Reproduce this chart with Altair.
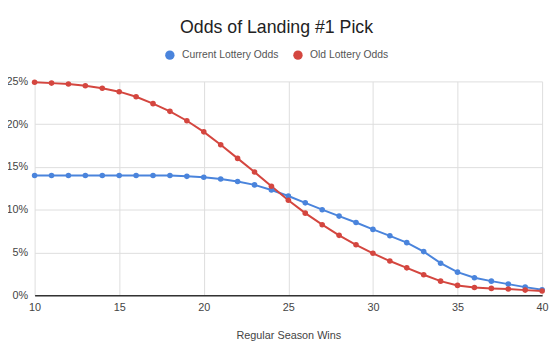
import altair as alt
import pandas as pd

wins = list(range(10, 41))
current_odds = [14.0, 14.0, 14.0, 14.0, 14.0, 14.0, 14.0, 14.0, 14.0, 13.9, 13.8,
                13.6, 13.3, 12.9, 12.3, 11.6, 10.8, 10.0, 9.25, 8.5, 7.7,
                6.95, 6.15, 5.1, 3.75, 2.7, 2.05, 1.65, 1.3, 0.95, 0.65]
old_odds = [24.9, 24.8, 24.7, 24.5, 24.2, 23.8, 23.2, 22.4, 21.5, 20.4, 19.1,
            17.6, 16.0, 14.4, 12.75, 11.1, 9.6, 8.25, 7.0, 5.9, 4.9,
            4.0, 3.2, 2.4, 1.65, 1.15, 0.9, 0.8, 0.73, 0.6, 0.5]
series_names = ["Current Lottery Odds", "Old Lottery Odds"]
colors = ["#4a84dc", "#d4463f"]

rows = []
for name, vals in zip(series_names, [current_odds, old_odds]):
    for w, v in zip(wins, vals):
        rows.append({"wins": w, "odds": v, "series": name})
df = pd.DataFrame(rows)

FONT = "Arial, Liberation Sans, sans-serif"

color = alt.Color(
    "series:N",
    scale=alt.Scale(domain=series_names, range=colors),
    legend=alt.Legend(
        orient="none", legendX=132, legendY=-32, direction="horizontal",
        title=None, symbolType="circle", symbolSize=90, symbolStrokeWidth=0,
        labelFont=FONT, labelFontSize=10.5, labelColor="#555555",
        columnPadding=14, labelOffset=7,
    ),
)

x = alt.X("wins:Q", scale=alt.Scale(domain=[10, 40], nice=False),
          axis=alt.Axis(values=[10, 15, 20, 25, 30, 35, 40], title="Regular Season Wins",
                        ticks=False, labelPadding=6, titlePadding=18, labelFlush=False,
                        domainColor="#333333", domainWidth=1.5,
                        gridColor="#dddddd", labelColor="#444444", titleColor="#444444",
                        labelFont=FONT, titleFont=FONT, labelFontSize=11,
                        titleFontSize=11, titleFontWeight="normal"))
y = alt.Y("odds:Q", scale=alt.Scale(domain=[0, 25], nice=False),
          axis=alt.Axis(values=[0, 5, 10, 15, 20, 25], title=None, ticks=False,
                        labelPadding=7, domain=False, gridColor="#dddddd",
                        labelColor="#444444", labelFont=FONT, labelFontSize=11,
                        labelExpr="datum.value + '%'"))

base = alt.Chart(df)
lines = base.mark_line(strokeWidth=2).encode(x=x, y=y, color=color)
points = base.mark_circle(size=32, opacity=1).encode(x=x, y=y, color=color)

chart = (lines + points).properties(
    width=515, height=217,
    title=alt.TitleParams("Odds of Landing #1 Pick", anchor="middle", font=FONT,
                          fontSize=18, fontWeight="normal", color="#222222",
                          offset=13, dx=-12),
    autosize=alt.AutoSizeParams(type="none"),
    padding={"left": 27, "top": 72, "right": 7, "bottom": 48},
).configure_view(stroke=None)

chart.save("out.html", embed_options={"renderer": "svg", "actions": False})
